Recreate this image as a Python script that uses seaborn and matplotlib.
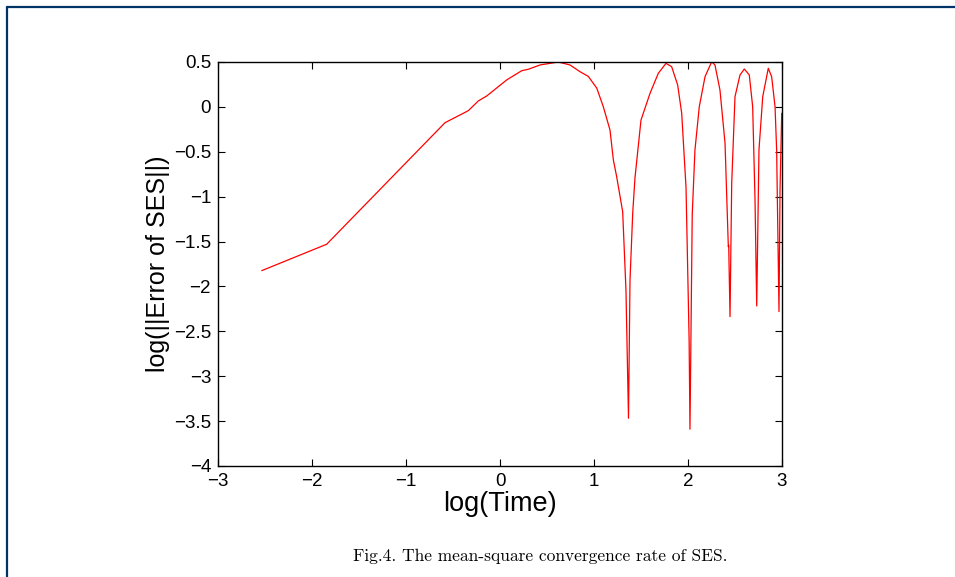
import numpy as np
import pandas as pd
import seaborn as sns
import matplotlib.pyplot as plt
from matplotlib.lines import Line2D

# values
log_time = [-2.535, -1.844, -0.585, -0.461, -0.337, -0.231, -0.142, 0.071, 0.231, 0.301,
            0.426, 0.620, 0.745, 0.851, 0.939, 1.029, 1.099, 1.170, 1.206, 1.241,
            1.305, 1.340, 1.367, 1.383, 1.412, 1.436, 1.500, 1.596, 1.684, 1.766,
            1.826, 1.890, 1.933, 1.979, 2.012, 2.021, 2.035, 2.045, 2.074, 2.120,
            2.181, 2.252, 2.287, 2.340, 2.394, 2.429, 2.433, 2.447, 2.465, 2.500,
            2.553, 2.599, 2.652, 2.688, 2.713, 2.731, 2.755, 2.795, 2.854, 2.890,
            2.926, 2.943, 2.968, 2.979, 2.997]
log_err = [-1.824, -1.530, -0.176, -0.109, -0.042, 0.066, 0.121, 0.300, 0.403, 0.419,
           0.467, 0.500, 0.467, 0.392, 0.340, 0.210, 0.002, -0.257, -0.591, -0.777,
           -1.167, -2.040, -3.468, -1.930, -1.180, -0.790, -0.146, 0.151, 0.374, 0.485,
           0.448, 0.244, -0.071, -0.900, -2.600, -3.590, -2.200, -1.200, -0.480, 0.002,
           0.336, 0.503, 0.467, 0.188, -0.405, -1.557, -1.540, -2.336, -0.850, 0.114,
           0.355, 0.422, 0.355, 0.002, -1.037, -2.217, -0.480, 0.114, 0.430, 0.336,
           0.002, -0.480, -2.280, -0.925, -0.071]

x_ticks = [-3, -2, -1, 0, 1, 2, 3]
y_ticks = [0.5, 0, -0.5, -1, -1.5, -2, -2.5, -3, -3.5, -4]

df = pd.DataFrame({'log_time': log_time, 'log_err': log_err})

sns.set_style('white')
plt.rcParams['font.family'] = ['Liberation Sans', 'DejaVu Sans']
plt.rcParams['text.color'] = 'black'
plt.rcParams['axes.labelcolor'] = 'black'
plt.rcParams['xtick.color'] = 'black'
plt.rcParams['ytick.color'] = 'black'

fig = plt.figure(figsize=(9.55, 5.77), dpi=100)
ax = fig.add_axes([218 / 955, 1 - 466 / 577, 564 / 955, 404 / 577])

sns.lineplot(data=df, x='log_time', y='log_err', sort=False, estimator=None,
             color='red', linewidth=0.9, ax=ax)

ax.set_xlim(-3, 3)
ax.set_ylim(-4, 0.5)
ax.set_xticks(x_ticks)
ax.set_yticks(y_ticks)
ax.set_xticklabels([str(t).replace('-', '\u2212') for t in x_ticks])
ax.set_yticklabels([('%g' % t).replace('-', '\u2212') for t in y_ticks])
ax.tick_params(direction='in', length=5, width=0.8, labelsize=13.5,
               top=True, right=True, bottom=True, left=True, pad=5)
ax.tick_params(axis='x', pad=5)
for s in ax.spines.values():
    s.set_color('black')
    s.set_linewidth(1.0)

ax.set_xlabel('log(Time)', fontsize=19.5, labelpad=1)
ax.set_ylabel('log(||Error of SES||)', fontsize=18, labelpad=3)

# caption and page frame
fig.text(540 / 955, 1 - 556 / 577, 'Fig.4. The mean-square convergence rate of SES.',
         ha='center', va='center', fontsize=12.5, family=['cmr10', 'DejaVu Serif'])
frame = '#003366'
fig.add_artist(Line2D([6.5 / 955, 6.5 / 955], [0, 1 - 6.5 / 577],
                      transform=fig.transFigure, color=frame, linewidth=1.6))
fig.add_artist(Line2D([6.5 / 955, 1], [1 - 6.5 / 577, 1 - 6.5 / 577],
                      transform=fig.transFigure, color=frame, linewidth=1.6))

fig.savefig('out.png', dpi=100)
